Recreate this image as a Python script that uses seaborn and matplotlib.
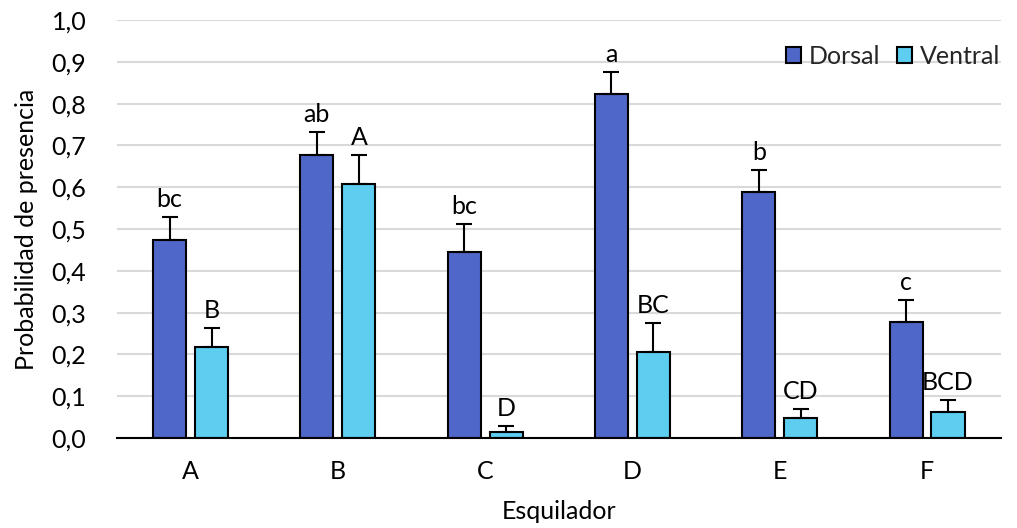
import matplotlib
matplotlib.use("Agg")
import matplotlib.pyplot as plt
import seaborn as sns
import pandas as pd
import numpy as np
from matplotlib.patches import Patch

# Probability of presence per shearer, dorsal vs ventral
shearers = ["A", "B", "C", "D", "E", "F"]
dorsal = [0.473, 0.677, 0.444, 0.823, 0.588, 0.278]
ventral = [0.218, 0.608, 0.015, 0.206, 0.048, 0.062]
dorsal_err = [0.055, 0.055, 0.068, 0.052, 0.053, 0.053]
ventral_err = [0.046, 0.069, 0.013, 0.068, 0.021, 0.029]
dorsal_letters = ["bc", "ab", "bc", "a", "b", "c"]
ventral_letters = ["B", "A", "D", "BC", "CD", "BCD"]
sides = ["Dorsal", "Ventral"]

df = pd.DataFrame({
    "Esquilador": shearers * 2,
    "Lado": [sides[0]] * len(shearers) + [sides[1]] * len(shearers),
    "Prob": dorsal + ventral,
})

sns.set_theme(style="white")
plt.rcParams["font.family"] = ["Lato", "DejaVu Sans"]
FS = 18

colors = {"Dorsal": "#4F67C8", "Ventral": "#5DCDF0"}

fig = plt.figure(figsize=(10.17, 5.28), dpi=100)
ax = fig.add_axes([0.115, 0.1705, 0.869, 0.7915])

sns.barplot(data=df, x="Esquilador", y="Prob", hue="Lado", order=shearers,
            hue_order=sides, palette=colors, saturation=1, width=0.57, gap=0.21,
            edgecolor="black", linewidth=1.5, errorbar=None, ax=ax,
            legend=False, zorder=3)

errs = {"Dorsal": dorsal_err, "Ventral": ventral_err}
vals = {"Dorsal": dorsal, "Ventral": ventral}
letters = {"Dorsal": dorsal_letters, "Ventral": ventral_letters}
for cont, side in zip(ax.containers, sides):
    xs = [p.get_x() + p.get_width() / 2 for p in cont.patches]
    v = np.array(vals[side])
    e = np.array(errs[side])
    ax.errorbar(xs, v, yerr=[np.zeros_like(e), e], fmt="none", ecolor="black",
                elinewidth=1.5, capsize=5.5, capthick=1.5, zorder=4)
    for x, top, lab in zip(xs, v + e, letters[side]):
        ax.annotate(lab, (x, top), xytext=(0, 10), textcoords="offset pixels",
                    ha="center", va="baseline", fontsize=FS, color="black")

ax.set_ylim(0, 1.0)
ax.set_xlim(-0.5, 5.5)
ticks = np.arange(0, 1.01, 0.1)
ax.set_yticks(ticks)
ax.set_yticklabels([f"{t:.1f}".replace(".", ",") for t in ticks])
ax.yaxis.grid(True, color="#D9D9D9", linewidth=1.5, zorder=0)
ax.set_axisbelow(True)
for s in ["top", "right", "left"]:
    ax.spines[s].set_visible(False)
ax.spines["bottom"].set_color("black")
ax.spines["bottom"].set_linewidth(1.5)
ax.spines["bottom"].set_zorder(5)
ax.tick_params(axis="both", length=0, labelsize=FS, colors="black")
ax.tick_params(axis="x", pad=16)
ax.tick_params(axis="y", pad=22)

ax.set_xlabel("Esquilador", fontsize=FS, labelpad=12, color="black")
ax.set_ylabel("Probabilidad de presencia", fontsize=FS, labelpad=10, color="black")

handles = [Patch(facecolor=colors[s], edgecolor="black", linewidth=1.5, label=s)
           for s in sides]
ax.legend(handles=handles, loc="upper right", bbox_to_anchor=(1.025, 0.995),
          ncol=2, frameon=False, fontsize=FS, handlelength=0.6,
          handleheight=0.6, handletextpad=0.3, columnspacing=0.7)

fig.savefig("out.png", dpi=100)
